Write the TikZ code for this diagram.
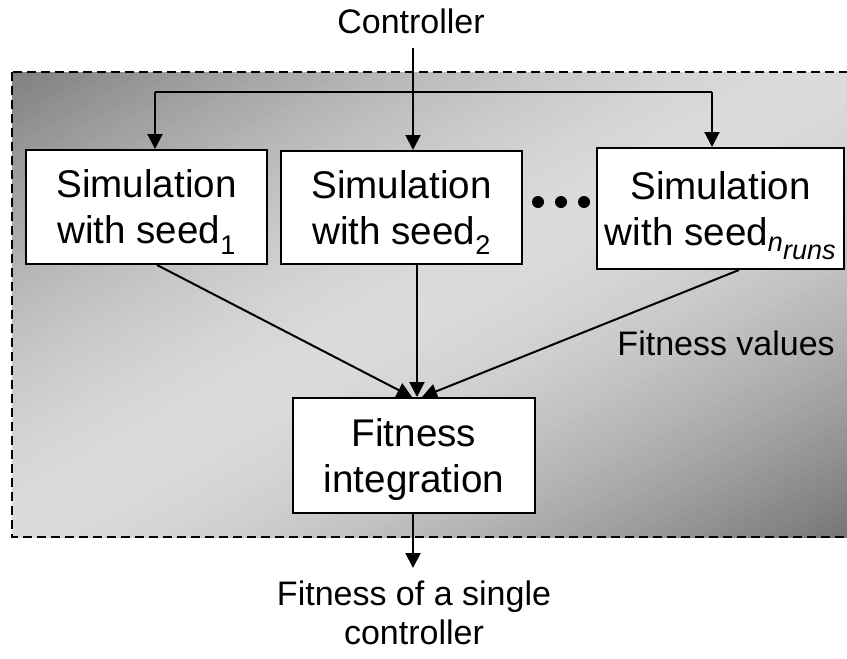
\documentclass[tikz,border=0pt]{standalone}
\usepackage{fontspec}
\setmainfont{Liberation Sans}
\usetikzlibrary{arrows.meta,calc}

\tikzset{
  simbox/.style={draw=black, line width=2pt, fill=white, inner sep=0pt,
    align=center, text depth=0pt, font=\fontsize{38.6}{46}\selectfont},
  conn/.style={line width=2pt},
  arr/.style={conn, -{Triangle[length=15pt,width=15pt]}},
  outlabel/.style={inner sep=0pt, align=center, font=\fontsize{34}{39}\selectfont},
  frame/.style={draw=black, line width=2pt, dash pattern=on 9pt off 5pt},
}

\begin{document}
\begin{tikzpicture}[x=1pt, y=-1pt]
  \useasboundingbox (0,0) rectangle (847,659);

  % shaded background: dark corners top-left and bottom-right,
  % light along the other diagonal, built from thin diagonal bands
  \def\bx{12}\def\by{72}\def\bw{835}\def\bh{465}
  \begin{scope}
    \clip (12,72) rectangle (854,537);
    \foreach \i in {0,...,99}{
      \pgfmathsetmacro{\ca}{\i/50}
      \pgfmathsetmacro{\cb}{(\i+1.2)/50}
      \pgfmathsetmacro{\cm}{(\i+0.5)/50}
      \pgfmathsetmacro{\pct}{14+(36+4*(\cm>1))*abs(1-\cm)^1.5}
      \fill[black!\pct]
        ({\bx+\ca*\bw},\by) -- (\bx,{\by+\ca*\bh}) --
        (\bx,{\by+\cb*\bh}) -- ({\bx+\cb*\bw},\by) -- cycle;
    }
  \end{scope}
  \draw[frame] (12,72) rectangle (854,537);

  % input label
  \node[outlabel, anchor=base] (ctrl) at (411,33) {Controller};

  % simulation boxes
  \node[simbox, minimum width=241pt, minimum height=114pt] (sim1) at (146.5,207)
    {Simulation\\with seed\textsubscript{1}};
  \node[simbox, minimum width=241pt, minimum height=113pt] (sim2) at (401.5,207.5)
    {Simulation\\with seed\textsubscript{2}};
  \node[simbox, minimum width=247pt, minimum height=121pt] (sim3) at (720.5,208.5)
    {Simulation\\with seed\textsubscript{\itshape n\raisebox{-0.3em}{runs}}};

  % ellipsis between the boxes
  \foreach \i/\x in {1/538, 2/561, 3/584}
    \fill (\x,202) circle[radius=6pt] coordinate (dot\i);

  % integration box
  \node[simbox, minimum width=242pt, minimum height=115pt] (fit) at (414,455.5)
    {Fitness\\integration};

  % labels
  \node[outlabel, anchor=base east] (fval) at (835,355) {Fitness values};
  \node[outlabel, anchor=north] (result) at (414,581)
    {Fitness of a single\\controller};

  % distribution of the controller to all simulations
  \coordinate (busL) at (155,92);
  \coordinate (busR) at (712,92);
  \draw[conn] (busL) -- (busR);
  \draw[arr] ([xshift=2pt]ctrl.south) ++(0,14) -- ([xshift=2pt]ctrl.south |- sim2.north);
  \draw[arr] (busL) -- (busL |- sim1.north);
  \draw[arr] (busR) -- (busR |- sim3.north);

  % fitness values to integration
  \draw[arr] ([xshift=10.5pt]sim1.south) -- ([xshift=-2pt]fit.north);
  \draw[arr] ([xshift=15.5pt]sim2.south) -- ([xshift=3pt]fit.north);
  \draw[arr] ([xshift=18.5pt]sim3.south) -- ([xshift=8pt]fit.north);

  % output
  \draw[arr] ([xshift=-1pt]fit.south) -- ([xshift=-1pt]fit.south |- 0,568);
\end{tikzpicture}
\end{document}
